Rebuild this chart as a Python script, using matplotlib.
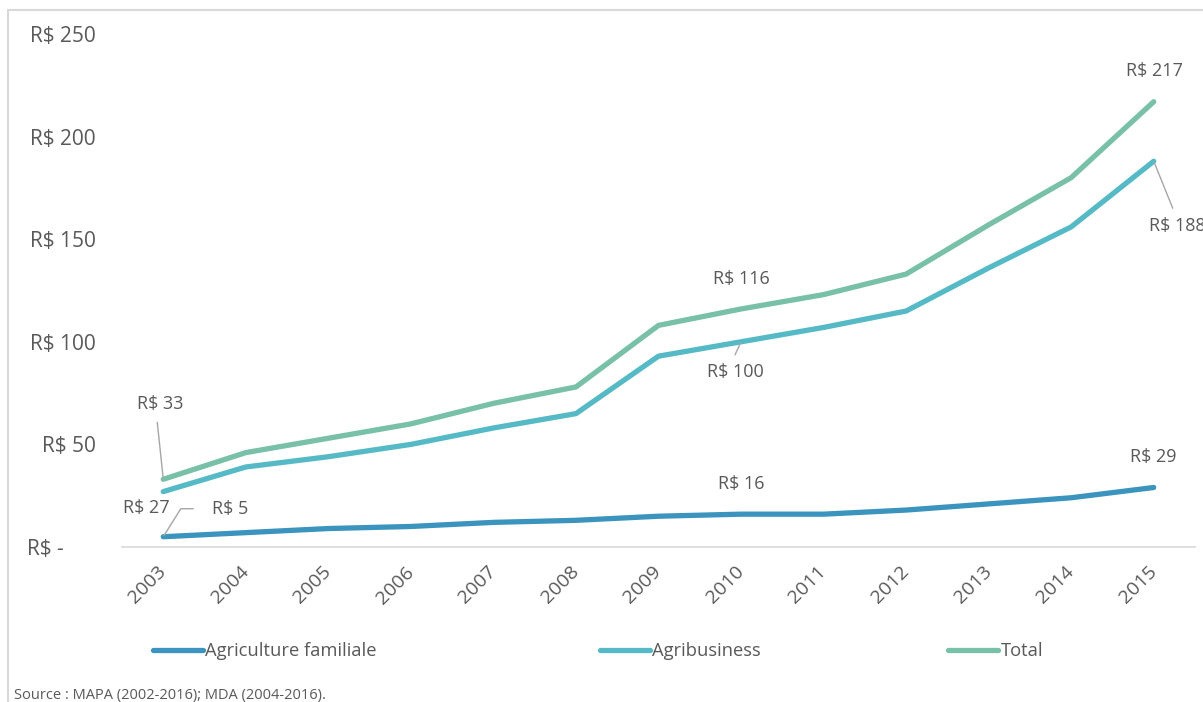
import matplotlib.pyplot as plt
from matplotlib.patches import Rectangle
from matplotlib.lines import Line2D
from matplotlib.ticker import FuncFormatter

plt.rcParams['font.family'] = ['Open Sans', 'DejaVu Sans']

annees = [2003, 2004, 2005, 2006, 2007, 2008, 2009, 2010, 2011, 2012, 2013, 2014, 2015]
familiale = [5, 7, 9, 10, 12, 13, 15, 16, 16, 18, 21, 24, 29]
agribusiness = [27, 39, 44, 50, 58, 65, 93, 100, 107, 115, 136, 156, 188]
total = [33, 46, 53, 60, 70, 78, 108, 116, 123, 133, 157, 180, 217]

noms = ["Agriculture familiale", "Agribusiness", "Total"]
couleurs = ["#3A94BD", "#56B9C6", "#78C0A7"]
gris = "#595959"

fig = plt.figure(figsize=(12.03, 7.02), dpi=100)
ax = fig.add_axes([122/1203, 1-547/702, 1073/1203, 513/702])

x = list(range(len(annees)))
series = [familiale, agribusiness, total]
lignes = []
for valeurs, coul in zip(series, couleurs):
    l, = ax.plot(x, valeurs, color=coul, lw=3.8, solid_capstyle='round', solid_joinstyle='round')
    lignes.append(l)

ax.set_xlim(-0.5, len(annees) - 0.5)
ax.set_ylim(0, 250)
ax.set_yticks([0, 50, 100, 150, 200, 250])
ax.yaxis.set_major_formatter(FuncFormatter(lambda v, p: "R$ -      " if v == 0 else "R$ %d" % v))
ax.set_xticks(x)
ax.set_xticklabels([str(a) for a in annees], rotation=45, ha='right', va='center', rotation_mode='anchor')
ax.tick_params(axis='x', length=0, pad=16, labelsize=14, labelcolor=gris)
ax.tick_params(axis='y', length=0, pad=19, labelsize=15, labelcolor=gris)
for s in ['top', 'right', 'left']:
    ax.spines[s].set_visible(False)
ax.spines['bottom'].set_color('#D9D9D9')
ax.spines['bottom'].set_linewidth(1.2)

# etiquettes de donnees (texte, serie, index, decalage en pixels)
px = 0.72
etiquettes = [
    ("R$ 33", total, 0, (-3, 75)),
    ("R$ 27", agribusiness, 0, (-17, -16)),
    ("R$ 5", familiale, 0, (67, 28)),
    ("R$ 116", total, 7, (0, 30)),
    ("R$ 100", agribusiness, 7, (-6, -30)),
    ("R$ 16", familiale, 7, (0, 30)),
    ("R$ 217", total, 12, (1, 31)),
    ("R$ 29", familiale, 12, (0, 30)),
]
for txt, serie, i, (dx, dy) in etiquettes:
    ax.annotate(txt, xy=(i, serie[i]), xytext=(dx*px, dy*px), textcoords='offset points',
                ha='center', va='center', fontsize=13, color=gris)

ax.annotate("R$ 188", xy=(12, agribusiness[12]), xytext=(-5*px, -65*px), textcoords='offset points',
            ha='left', va='center', fontsize=13, color=gris, annotation_clip=False)

# lignes de rappel
gris_l = "#A6A6A6"
ax.annotate("", xy=(0, total[0]), xytext=(-6*px, 57*px), textcoords='offset points',
            arrowprops=dict(arrowstyle='-', color=gris_l, lw=1, shrinkA=0, shrinkB=1))
ax.annotate("", xy=(0, familiale[0]), xytext=(30*px, 28*px), textcoords='offset points',
            arrowprops=dict(arrowstyle='-', color=gris_l, lw=1, shrinkA=0, shrinkB=1,
                            connectionstyle="angle,angleA=0,angleB=58,rad=0"))
ax.annotate("", xy=(7, agribusiness[7]), xytext=(-6*px, -13*px), textcoords='offset points',
            arrowprops=dict(arrowstyle='-', color=gris_l, lw=1, shrinkA=0, shrinkB=1))
ax.annotate("", xy=(12, agribusiness[12]), xytext=(19*px, -47*px), textcoords='offset points',
            arrowprops=dict(arrowstyle='-', color=gris_l, lw=1, shrinkA=0, shrinkB=1))

# legende
positions = [153/1203, 600/1203, 948/1203]
for l, nom, xp in zip(lignes, noms, positions):
    h = Line2D([], [], color=l.get_color(), lw=3.8, solid_capstyle='round')
    leg = fig.legend([h], [nom], loc='center left', bbox_to_anchor=(xp, 1-651/702), frameon=False,
                     fontsize=13.2, handlelength=2.7, handletextpad=0.16, borderaxespad=0, borderpad=0,
                     labelcolor=gris)

fig.patches.append(Rectangle((8/1203, -0.2), 1.2, 1.2 - 10/702, transform=fig.transFigure,
                             fill=False, edgecolor='#D9D9D9', lw=1.5))

fig.text(14/1203, 1-695/702, "Source : MAPA (2002-2016); MDA (2004-2016).", fontsize=10.5,
         color=gris, ha='left', va='center')

fig.savefig("out.png", dpi=100)
